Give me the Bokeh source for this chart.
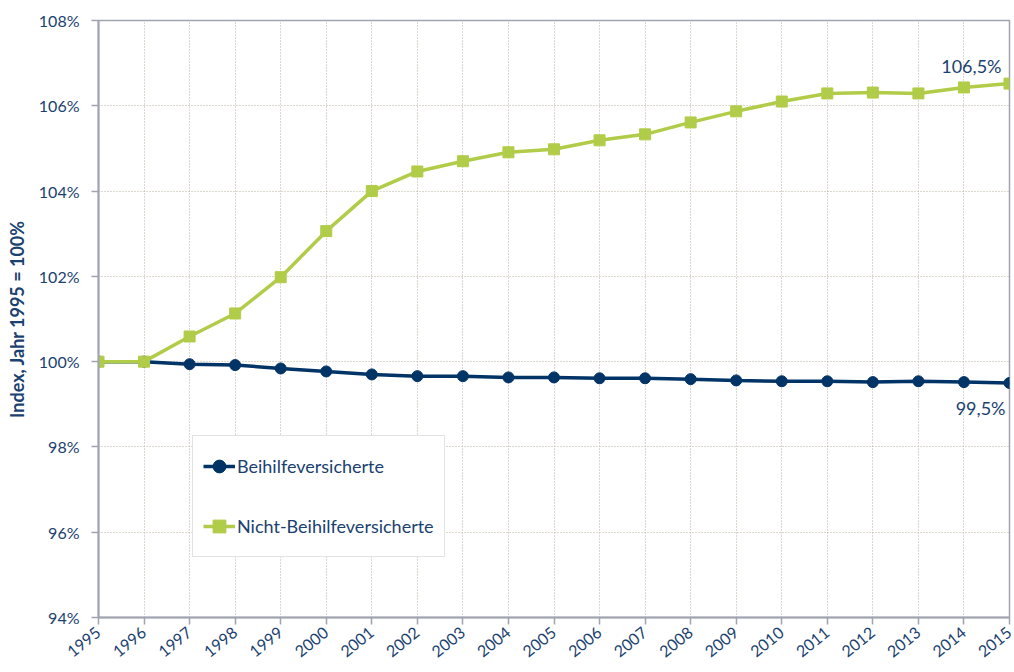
import math
from bokeh.plotting import figure
from bokeh.models import Range1d, FixedTicker, PrintfTickFormatter, Legend, LegendItem, Label
from bokeh.embed import file_html
from bokeh.resources import INLINE

years = list(range(1995, 2016))
beihilfe = [100.0, 100.0, 99.94, 99.92, 99.84, 99.77, 99.70, 99.66, 99.66, 99.63, 99.63,
            99.61, 99.61, 99.59, 99.56, 99.54, 99.54, 99.52, 99.54, 99.52, 99.50]
nicht_beihilfe = [100.0, 100.0, 100.59, 101.13, 101.98, 103.06, 104.0, 104.46, 104.70, 104.91, 104.98,
                  105.19, 105.33, 105.61, 105.87, 106.10, 106.29, 106.31, 106.29, 106.43, 106.52]
y_ticks = [94, 96, 98, 100, 102, 104, 106, 108]
series_names = ["Beihilfeversicherte", "Nicht-Beihilfeversicherte"]
end_labels = ["99,5%", "106,5%"]

BLUE = "#003366"
GREEN = "#b1cc48"
TEXT = "#1a4170"
FONT = "Lato"

p = figure(width=1014, height=669, output_backend="svg", toolbar_location=None,
           x_range=Range1d(1995, 2015), y_range=Range1d(94, 108),
           min_border_left=98, min_border_right=5, min_border_top=20, min_border_bottom=52)

p.outline_line_color = "#a0a4b0"
p.outline_line_width = 1.5

# grid
for g in (p.xgrid, p.ygrid):
    g.grid_line_color = "#b8b0a0"
    g.grid_line_dash = "1 2"
    g.grid_line_width = 1
p.xgrid.ticker = FixedTicker(ticks=years)
p.ygrid.ticker = FixedTicker(ticks=y_ticks)

# axes
p.xaxis.ticker = FixedTicker(ticks=years)
p.yaxis.ticker = FixedTicker(ticks=y_ticks)
p.yaxis.formatter = PrintfTickFormatter(format="%d%%")
for ax in (p.xaxis[0], p.yaxis[0]):
    ax.axis_line_color = "#a0a4b0"
    ax.axis_line_width = 2
    ax.major_tick_line_color = "#a0a4b0"
    ax.major_tick_line_width = 1.5
    ax.major_tick_out = 7
    ax.major_tick_in = 0
    ax.minor_tick_line_color = None
    ax.major_label_text_color = TEXT
    ax.major_label_text_font = FONT
    ax.major_label_text_font_size = "16px"
p.xaxis.major_label_orientation = 0.68
p.xaxis.major_label_standoff = 6
p.yaxis.major_label_standoff = 12
p.yaxis.axis_label = "Index, Jahr 1995 = 100%"
p.yaxis.axis_label_text_font = FONT
p.yaxis.axis_label_text_font_style = "bold"
p.yaxis.axis_label_text_font_size = "18px"
p.yaxis.axis_label_text_color = TEXT
p.yaxis.axis_label_standoff = 8

l1 = p.line(years, beihilfe, line_color=BLUE, line_width=3.5)
s1 = p.scatter(years, beihilfe, marker="circle", size=11, fill_color=BLUE, line_color=BLUE)
l2 = p.line(years, nicht_beihilfe, line_color=GREEN, line_width=3.5)
s2 = p.scatter(years, nicht_beihilfe, marker="square", size=11, fill_color=GREEN, line_color=GREEN)

legend = Legend(items=[LegendItem(label=series_names[0], renderers=[l1, s1]),
                       LegendItem(label=series_names[1], renderers=[l2, s2])],
                location=(94, 60))
legend.label_text_color = TEXT
legend.label_text_font = FONT
legend.label_text_font_size = "18px"
legend.glyph_width = 32
legend.glyph_height = 40
legend.label_height = 40
legend.label_standoff = 2
legend.spacing = 20
legend.padding = 10
legend.margin = 0
legend.border_line_color = "#c8c8c8"
legend.border_line_width = 1.5
legend.background_fill_alpha = 1
p.add_layout(legend, "center")

p.add_layout(Label(x=years[-1], y=nicht_beihilfe[-1], text=end_labels[1], x_offset=-8, y_offset=7,
                   text_align="right", text_baseline="bottom", text_color=TEXT,
                   text_font=FONT, text_font_size="18px"))
p.add_layout(Label(x=years[-1], y=beihilfe[-1], text=end_labels[0], x_offset=-4, y_offset=-14,
                   text_align="right", text_baseline="top", text_color=TEXT,
                   text_font=FONT, text_font_size="18px"))

open("out.html", "w").write(file_html(p, INLINE))
